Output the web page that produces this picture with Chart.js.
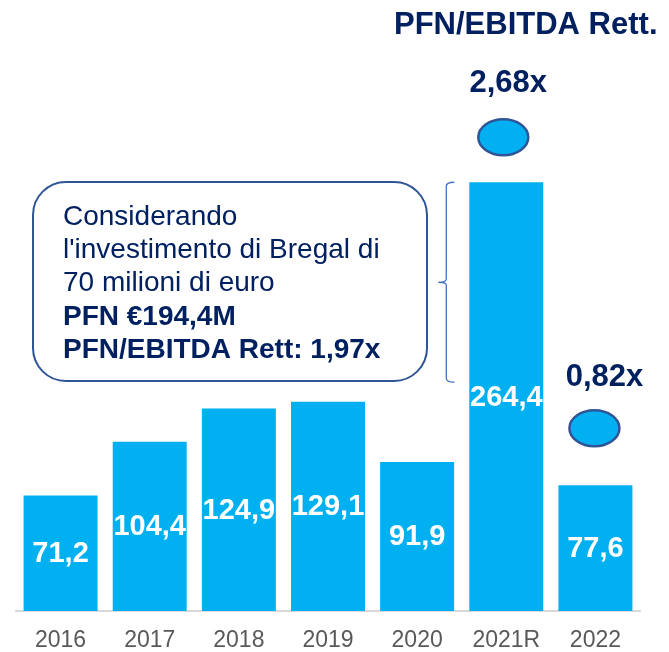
<!DOCTYPE html>
<html>
<head>
<meta charset="utf-8">
<script src="https://cdn.jsdelivr.net/npm/chart.js"></script>
<style>
  html, body { margin: 0; padding: 0; background: #ffffff; }
  canvas { display: block; }
</style>
</head>
<body>
<canvas id="pfnChart" width="669" height="652"></canvas>
<script>
// dati
const years = ["2016", "2017", "2018", "2019", "2020", "2021R", "2022"];
const pfnValues = [71.2, 104.4, 124.9, 129.1, 91.9, 264.4, 77.6];
const ratioYears = ["2021R", "2022"];
const ratioLabels = ["2,68x", "0,82x"];
const chartTitle = "PFN/EBITDA Rett.";
const noteLines = [
  "Considerando",
  "l'investimento di Bregal di",
  "70 milioni di euro",
  "PFN €194,4M",
  "PFN/EBITDA Rett: 1,97x",
];
const noteBold = [false, false, false, true, true];

const NAVY = "#002060";
const CYAN = "#00B0F0";
const FONT = "'Liberation Sans', Arial, sans-serif";

// offsets (pixels) of the ratio markers relative to the bar top
const ratioLayout = [
  { ellipseDx: -3, ellipseDy: -45, textDx: 2, textDy: -102 },
  { ellipseDx: -1, ellipseDy: -57, textDx: 9, textDy: -111 },
];

function fmt(v) {
  return v.toFixed(1).replace(".", ",");
}

const overlay = {
  id: "overlay",
  afterDatasetsDraw(chart) {
    const ctx = chart.ctx;
    const meta = chart.getDatasetMeta(0);

    // valori dentro le barre
    ctx.save();
    ctx.fillStyle = "#ffffff";
    ctx.font = "bold 29px " + FONT;
    ctx.textAlign = "center";
    ctx.textBaseline = "middle";
    meta.data.forEach((bar, i) => {
      ctx.fillText(fmt(pfnValues[i]), bar.x, (bar.y + bar.base) / 2 + 1);
    });
    ctx.restore();

    // titolo
    ctx.save();
    ctx.fillStyle = NAVY;
    ctx.font = "bold 31px " + FONT;
    ctx.textAlign = "left";
    ctx.textBaseline = "alphabetic";
    ctx.fillText(chartTitle, 394, 34);
    ctx.restore();

    // PFN/EBITDA markers
    ratioYears.forEach((yr, k) => {
      const i = years.indexOf(yr);
      const bar = meta.data[i];
      const lay = ratioLayout[k];
      ctx.save();
      ctx.beginPath();
      ctx.ellipse(bar.x + lay.ellipseDx, bar.y + lay.ellipseDy, 25, 18, 0, 0, Math.PI * 2);
      ctx.fillStyle = CYAN;
      ctx.fill();
      ctx.lineWidth = 2.5;
      ctx.strokeStyle = "#2F5597";
      ctx.stroke();
      ctx.fillStyle = NAVY;
      ctx.font = "bold 31px " + FONT;
      ctx.textAlign = "center";
      ctx.textBaseline = "alphabetic";
      ctx.fillText(ratioLabels[k], bar.x + lay.textDx, bar.y + lay.textDy + 12);
      ctx.restore();
    });

    // parentesi graffa accanto a 2021R
    const big = meta.data[years.indexOf("2021R")];
    const top = big.y;
    const bot = big.y + 200;
    const bx = big.x - 60;
    const mid = (top + bot) / 2;
    ctx.save();
    ctx.strokeStyle = "#4472C4";
    ctx.lineWidth = 1.3;
    ctx.beginPath();
    ctx.moveTo(bx + 8, top);
    ctx.quadraticCurveTo(bx, top, bx, top + 4);
    ctx.lineTo(bx, mid - 3);
    ctx.quadraticCurveTo(bx, mid, bx - 8, mid);
    ctx.quadraticCurveTo(bx, mid, bx, mid + 3);
    ctx.lineTo(bx, bot - 4);
    ctx.quadraticCurveTo(bx, bot, bx + 8, bot);
    ctx.stroke();
    ctx.restore();

    // riquadro nota
    ctx.save();
    ctx.beginPath();
    ctx.roundRect(33, 182, 394, 199, 33);
    ctx.fillStyle = "#ffffff";
    ctx.fill();
    ctx.lineWidth = 2;
    ctx.strokeStyle = "#2F5597";
    ctx.stroke();
    ctx.fillStyle = NAVY;
    ctx.textAlign = "left";
    ctx.textBaseline = "alphabetic";
    noteLines.forEach((line, i) => {
      ctx.font = (noteBold[i] ? "bold " : "") + "28px " + FONT;
      ctx.fillText(line, 63, 225 + i * 33.2);
    });
    ctx.restore();
  },
};

new Chart(document.getElementById("pfnChart"), {
  type: "bar",
  data: {
    labels: years,
    datasets: [
      {
        data: pfnValues,
        backgroundColor: CYAN,
        borderWidth: 0,
        categoryPercentage: 1,
        barPercentage: 0.83,
      },
    ],
  },
  options: {
    responsive: false,
    animation: false,
    layout: { padding: { top: 11, left: 16, right: 29, bottom: 0 } },
    plugins: {
      legend: { display: false },
      tooltip: { enabled: false },
    },
    scales: {
      x: {
        grid: { display: false, drawTicks: false },
        border: { display: true, color: "#D9D9D9", width: 2 },
        ticks: {
          color: "#595959",
          font: { size: 23, family: FONT },
          padding: 16,
        },
        afterFit: (scale) => {
          scale.height = 41;
        },
      },
      y: {
        display: false,
        min: 0,
        max: 370,
      },
    },
  },
  plugins: [overlay],
});
</script>
</body>
</html>
